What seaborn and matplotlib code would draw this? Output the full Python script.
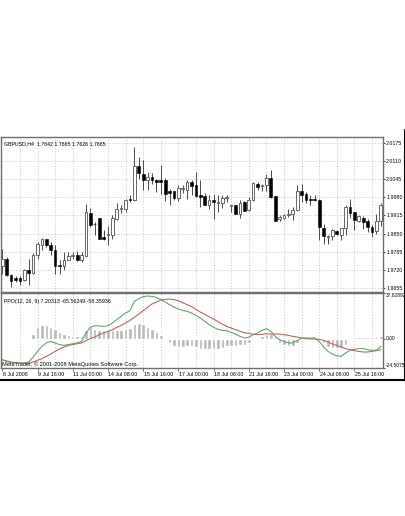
import numpy as np
import pandas as pd
import matplotlib
matplotlib.use('Agg')
import matplotlib.pyplot as plt
import seaborn as sns

# candles
highs = [1.9797,1.9767,1.9708,1.9698,1.9699,1.9725,1.9761,1.9781,1.9820,1.9836,1.9832,1.9820,1.9808,1.9755,1.9785,1.9785,1.9785,1.9788,1.9785,1.9957,1.9943,1.9892,1.9907,1.9862,1.9876,1.9915,1.9959,1.9954,1.9975,1.9987,2.0159,
         2.0123,2.0114,2.0070,2.0066,2.0046,2.0096,2.0049,2.0010,2.0004,2.0022,2.0022,2.0040,2.0040,2.0070,2.0040,1.9995,1.9987,1.9992,1.9987,1.9987,1.9987,1.9954,1.9954,1.9969,1.9965,1.9981,2.0034,2.0034,2.0028,
         2.0064,2.0076,1.9984,1.9915,1.9921,1.9939,1.9947,2.0024,2.0028,1.9998,1.9987,1.9989,1.9975,1.9883,1.9844,1.9868,1.9862,1.9870,1.9954,1.9975,1.9927,1.9915,1.9912,1.9903,1.9880,1.9919,1.9960]
body_tops = [1.9761,1.9761,1.9704,1.9692,1.9692,1.9722,1.9719,1.9775,1.9814,1.9832,1.9830,1.9808,1.9791,1.9737,1.9757,1.9772,1.9775,1.9775,1.9773,1.9927,1.9925,1.9886,1.9907,1.9838,1.9848,1.9906,1.9939,1.9943,1.9969,1.9975,2.0093,
             2.0091,2.0064,2.0054,2.0054,2.0042,2.0040,2.0040,2.0001,2.0001,2.0014,2.0014,2.0034,2.0036,2.0022,1.9987,1.9983,1.9969,1.9969,1.9963,1.9977,1.9981,1.9954,1.9954,1.9960,1.9963,1.9972,2.0030,2.0026,2.0024,
             2.0049,2.0048,1.9983,1.9909,1.9915,1.9921,1.9935,2.0001,2.0004,1.9990,1.9975,1.9975,1.9972,1.9871,1.9842,1.9862,1.9858,1.9870,1.9947,1.9945,1.9927,1.9913,1.9907,1.9894,1.9874,1.9895,1.9954]
body_bottoms = [1.9734,1.9702,1.9681,1.9684,1.9681,1.9684,1.9710,1.9710,1.9775,1.9811,1.9808,1.9791,1.9734,1.9734,1.9734,1.9757,1.9769,1.9757,1.9755,1.9769,1.9880,1.9883,1.9832,1.9832,1.9844,1.9846,1.9903,1.9939,1.9939,1.9971,1.9971,
                2.0066,2.0040,2.0040,2.0042,2.0036,2.0036,1.9992,1.9995,1.9977,1.9977,2.0010,2.0007,2.0019,1.9984,1.9981,1.9954,1.9953,1.9964,1.9959,1.9959,1.9977,1.9950,1.9921,1.9921,1.9931,1.9933,1.9969,2.0016,2.0019,
                2.0024,1.9981,1.9897,1.9903,1.9907,1.9915,1.9919,1.9933,1.9987,1.9971,1.9969,1.9969,1.9874,1.9841,1.9838,1.9842,1.9850,1.9844,1.9871,1.9924,1.9900,1.9897,1.9892,1.9874,1.9856,1.9860,1.9895]
lows = [1.9708,1.9699,1.9660,1.9678,1.9666,1.9681,1.9666,1.9708,1.9761,1.9793,1.9803,1.9773,1.9708,1.9708,1.9719,1.9755,1.9761,1.9753,1.9749,1.9767,1.9874,1.9844,1.9830,1.9826,1.9808,1.9832,1.9900,1.9924,1.9927,1.9963,1.9966,
        2.0046,2.0007,2.0007,2.0028,1.9998,1.9992,1.9966,1.9954,1.9969,1.9966,1.9995,1.9975,1.9987,1.9981,1.9945,1.9951,1.9939,1.9903,1.9927,1.9943,1.9963,1.9927,1.9919,1.9907,1.9930,1.9931,1.9966,2.0007,2.0004,
        2.0004,1.9978,1.9895,1.9897,1.9903,1.9909,1.9900,1.9930,1.9963,1.9959,1.9954,1.9966,1.9829,1.9812,1.9814,1.9826,1.9844,1.9829,1.9844,1.9907,1.9864,1.9892,1.9868,1.9856,1.9838,1.9850,1.9876]
bullish = [1,0,0,0,0,1,0,1,1,1,0,0,0,0,1,1,1,0,1,1,0,0,0,0,1,1,1,1,1,0,1,
           0,0,1,0,0,0,0,0,0,1,1,1,0,0,0,0,1,0,1,1,1,1,0,1,0,1,1,0,1,
           1,0,0,1,1,1,1,1,0,0,0,0,0,0,1,1,0,1,1,0,0,1,0,0,0,1,1]

# PPO indicator
ppo = [-17.6,-19.0,-20.1,-20.4,-20.4,-20.4,-19.5,-15.4,-10.7,-6.5,-3.7,-2.4,-3.7,-5.1,-5.7,-5.1,-4.3,-3.7,-2.4,4.6,9.3,10.7,10.4,10.1,10.7,12.9,15.7,18.4,21.2,23.1,30.9,
       33.1,34.8,35.3,35.0,34.2,32.3,30.3,28.1,26.2,24.5,23.4,22.6,21.2,19.3,17.0,14.3,11.5,9.3,7.6,6.8,6.5,5.1,3.7,1.8,0.4,1.0,3.2,4.6,6.8,
       8.2,6.0,1.8,-1.0,-2.4,-3.7,-3.7,-1.8,0.4,0.4,0.4,0.4,-2.4,-7.1,-10.7,-12.9,-14.3,-14.8,-12.0,-9.8,-9.0,-8.4,-8.4,-9.3,-9.8,-9.6,-6.5]
signal = [-17.6,-18.7,-19.5,-20.1,-20.4,-20.4,-20.4,-19.5,-18.1,-16.8,-14.8,-12.9,-10.7,-8.7,-7.1,-5.7,-5.1,-4.3,-3.7,-1.8,-0.1,1.2,3.2,4.6,6.0,7.3,9.3,10.9,12.9,15.1,17.6,
          20.4,23.1,25.9,28.7,30.3,32.0,32.5,32.8,32.3,31.4,29.8,28.1,26.5,24.2,22.0,20.1,18.1,16.2,14.0,12.0,10.1,8.7,7.3,6.0,4.8,4.3,3.5,3.2,3.5,
          4.0,3.7,3.7,3.7,3.2,2.6,1.8,1.2,0.4,-0.1,-0.4,-0.4,-0.7,-1.5,-2.9,-4.6,-5.7,-7.1,-8.4,-9.3,-10.1,-10.7,-11.2,-11.2,-10.7,-10.1,-9.3]
hist = [0.0,-0.3,-0.4,-0.4,-1.0,-0.4,0.0,4.0,9.3,10.9,10.9,9.3,8.2,5.1,4.0,3.2,2.4,1.8,1.8,7.3,9.3,8.2,7.3,7.3,7.3,7.3,7.3,7.3,8.2,8.7,12.3,
        12.9,12.0,9.3,7.9,5.1,2.6,-0.1,-3.7,-6.5,-7.3,-7.3,-6.5,-6.5,-7.3,-8.4,-8.4,-8.7,-8.7,-8.4,-7.9,-6.5,-6.5,-6.5,-5.7,-5.1,-3.7,-0.4,0.4,1.8,
        3.7,3.7,1.0,-3.7,-5.7,-6.5,-6.5,-3.7,-0.1,0.4,0.4,1.2,-1.0,-3.7,-7.1,-7.9,-7.9,-7.9,-5.1,0.4,1.0,1.5,1.5,1.0,1.0,1.0,1.8]

price_ticks = [2.0175,2.0110,2.0045,1.9980,1.9915,1.9850,1.9785,1.9720,1.9655]
time_ticks = [0,8,16,24,32,40,48,56,64,72,80]
time_labels = ['8 Jul 2008','9 Jul 16:00','11 Jul 00:00','14 Jul 08:00','15 Jul 16:00','17 Jul 00:00',
               '18 Jul 08:00','21 Jul 16:00','23 Jul 00:00','24 Jul 08:00','25 Jul 16:00']

W, H = 406, 516
FRAME = '#6e6e6e'
GRID = '#c8c8c8'
TEXT = '#000000'

sns.set_theme(style='white')
plt.rcParams['font.family'] = ['Liberation Sans', 'DejaVu Sans']

fig = plt.figure(figsize=(W / 100, H / 100), dpi=100)

def panel(left, top, right, bottom):
    return fig.add_axes([left / W, 1 - bottom / H, (right - left) / W, (bottom - top) / H])

ax1 = panel(1, 137, 383, 292)
ax2 = panel(1, 293, 383, 368)

# one candle is 4.4 px wide, first one sits just inside the frame
xlim = (-0.3, 86.5)
x = np.arange(len(highs))

for ax in (ax1, ax2):
    ax.set_xlim(xlim)
    ax.set_xticks(np.arange(4, 87, 4))
    ax.xaxis.grid(True, color=GRID, linestyle=(0, (1.5, 2)), linewidth=0.6)
    ax.yaxis.grid(False)
    ax.set_axisbelow(True)
    ax.yaxis.tick_right()
    for s in ax.spines.values():
        s.set_color(FRAME)
        s.set_linewidth(1.0)

# price panel
ax1.set_ylim(1.9642, 2.0195)
ax1.set_yticks(price_ticks)
ax1.set_yticklabels([f'{p:.4f}' for p in price_ticks])
ax1.yaxis.grid(True, color=GRID, linestyle=(0, (1.5, 2)), linewidth=0.6)
ax1.tick_params(axis='y', length=1.5, width=0.5, pad=0.8, labelsize=3.8, colors=TEXT)
ax1.tick_params(axis='x', length=0, labelbottom=False)

tops = np.array(body_tops)
bottoms = np.array(body_bottoms)
up = np.array(bullish, dtype=bool)
ax1.vlines(x, lows, highs, color='#4a4a4a', linewidth=0.7, zorder=2)
ax1.bar(x[up], (tops - bottoms)[up], bottom=bottoms[up], width=0.6, facecolor='white',
        edgecolor='#666666', linewidth=0.7, zorder=3)
ax1.bar(x[~up], (tops - bottoms)[~up], bottom=bottoms[~up], width=0.62, facecolor='black',
        edgecolor='black', linewidth=0.4, zorder=3)
ax1.text(0.008, 0.955, 'GBPUSD,H4  1.7642 1.7665 1.7626 1.7665', transform=ax1.transAxes,
         fontsize=3.8, color=TEXT, va='center')

# indicator panel
df = pd.DataFrame({'x': x, 'ppo': ppo, 'signal': signal, 'hist': hist})
sns.barplot(data=df, x='x', y='hist', native_scale=True, color='#b8b8b8', saturation=1,
            width=0.8, ax=ax2, zorder=2)
sns.lineplot(data=df, x='x', y='signal', color='#b5605a', linewidth=0.75, ax=ax2, zorder=3)
sns.lineplot(data=df, x='x', y='ppo', color='#5aa064', linewidth=0.75, ax=ax2, zorder=4)
ax2.set_xlim(xlim)
ax2.set_ylim(-24.5075, 37.82892)
ax2.set_xlabel('')
ax2.set_ylabel('')
ax2.set_yticks([37.82892, 0, -24.5075])
ax2.set_yticklabels(['37.82892', '0.00', '-24.5075'])
for lab, va in zip(ax2.get_yticklabels(), ['top', 'center', 'bottom']):
    lab.set_va(va)
ax2.tick_params(axis='y', length=1.5, width=0.5, pad=0.8, labelsize=3.5, colors=TEXT)
ax2.text(0.008, 0.885, 'PPO(12, 26, 9) 7.20313 -65.56249 -58.35936', transform=ax2.transAxes,
         fontsize=3.8, color=TEXT, va='center')
ax2.text(0.003, 0.055, 'MetaTrader, © 2001-2008 MetaQuotes Software Corp.', transform=ax2.transAxes,
         fontsize=4.1, color=TEXT, va='center')

# time axis, labels start at their tick
ax2.tick_params(axis='x', length=0, labelbottom=False)
for t, lab in zip(time_ticks, time_labels):
    ax2.plot([t, t], [0, -0.045], transform=ax2.get_xaxis_transform(), color=FRAME,
             linewidth=0.6, clip_on=False)
    ax2.text(t + 0.1, -0.085, lab, transform=ax2.get_xaxis_transform(), fontsize=3.8,
             color=TEXT, ha='left', va='center')

# black window edge
fig.add_artist(plt.Line2D([0, 405 / W], [1 - 380 / H, 1 - 380 / H], color='black', linewidth=1.5))
fig.add_artist(plt.Line2D([405 / W, 405 / W], [1 - 380 / H, 1 - 130 / H], color='black', linewidth=1.5))

fig.savefig('out.png', dpi=100, facecolor='white')
plt.close(fig)
